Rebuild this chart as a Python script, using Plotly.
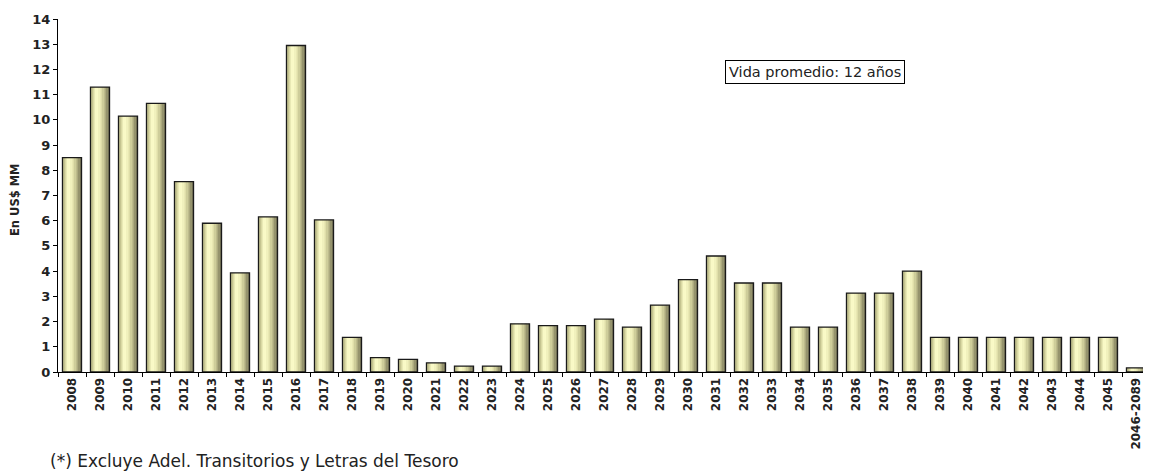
import plotly.graph_objects as go

categories = [str(y) for y in range(2008, 2046)] + ["2046-2089"]
values = [8.5, 11.3, 10.15, 10.65, 7.55, 5.9, 3.93, 6.15, 12.95, 6.03,
          1.37, 0.57, 0.5, 0.36, 0.23, 0.23, 1.91, 1.84, 1.84, 2.1,
          1.78, 2.65, 3.66, 4.6, 3.53, 3.53, 1.78, 1.78, 3.13, 3.13,
          4.0, 1.37, 1.37, 1.37, 1.37, 1.37, 1.37, 1.37, 0.16]
y_ticks = list(range(0, 15))

BAR_W = 0.68
N = 14
stops = [(0.0, (130, 128, 96)), (0.12, (205, 204, 150)), (0.35, (255, 255, 205)),
         (0.6, (225, 224, 170)), (0.85, (165, 163, 120)), (1.0, (110, 108, 80))]

def grad(t):
    for (t0, c0), (t1, c1) in zip(stops[:-1], stops[1:]):
        if t0 <= t <= t1:
            f = (t - t0) / (t1 - t0)
            return "rgb(%d,%d,%d)" % tuple(round(a + (b - a) * f) for a, b in zip(c0, c1))
    return "rgb(%d,%d,%d)" % stops[-1][1]

fig = go.Figure()
sw = BAR_W / N
for k in range(N):
    fig.add_trace(go.Bar(
        x=categories, y=values, width=sw * 1.05, offset=-BAR_W / 2 + k * sw,
        marker=dict(color=grad((k + 0.5) / N), line=dict(width=0)),
        showlegend=False, hoverinfo="skip"))
fig.add_trace(go.Bar(
    x=categories, y=values, width=BAR_W, offset=-BAR_W / 2,
    marker=dict(color="rgba(0,0,0,0)", line=dict(color="#1a1a1a", width=1.3)),
    showlegend=False))

# page body has an 8px default margin: work in screen coords, shift by 8
OFF = 8
W, H = 1151 - OFF, 471 - OFF
L, T = 58 - OFF, 19 - OFF
R = W - (1150 - OFF)
B = H - (372 - OFF)
PW, PH = W - L - R, H - T - B

def px(x):
    return (x - OFF - L) / PW

def py(y):
    return (H - B - (y - OFF)) / PH

fig.update_layout(
    width=W, height=H, barmode="overlay",
    margin=dict(l=L, r=R, t=T, b=B, autoexpand=False),
    plot_bgcolor="white", paper_bgcolor="white",
    font=dict(family="DejaVu Sans", color="black"),
    xaxis=dict(type="category", range=[-0.5, 38.5], showline=True, linecolor="black",
               linewidth=1, ticks="outside", tickson="boundaries", ticklen=4,
               tickcolor="black", tickangle=-90, automargin=False,
               tickfont=dict(size=12, family="DejaVu Sans", weight="bold", color="#222"),
               showgrid=False, zeroline=False),
    yaxis=dict(range=[0, 14], tickvals=y_ticks, showline=True, linecolor="black",
               linewidth=1, ticks="outside", ticklen=4, tickcolor="black", automargin=False,
               tickfont=dict(size=13, family="DejaVu Sans", weight="bold", color="#222"),
               showgrid=False, zeroline=False),
    annotations=[
        dict(text="<b>En US$ MM</b>", xref="paper", yref="paper",
             x=px(15), y=py(200), xanchor="center", yanchor="middle",
             textangle=-90, showarrow=False,
             font=dict(size=11.5, family="DejaVu Sans", color="#222")),
        dict(text="Vida promedio: 12 años", xref="paper", yref="paper",
             x=px(815), y=py(72), xanchor="center", yanchor="middle", showarrow=False,
             font=dict(size=14.5, family="DejaVu Sans", color="#222"),
             bordercolor="black", borderwidth=1, borderpad=3, bgcolor="white"),
        dict(text="(*) Excluye Adel. Transitorios y Letras del Tesoro", xref="paper",
             yref="paper", x=px(48), y=py(461), xanchor="left", yanchor="middle",
             showarrow=False, font=dict(size=17, family="DejaVu Sans", color="#222")),
    ],
)
fig.write_html("out.html")
